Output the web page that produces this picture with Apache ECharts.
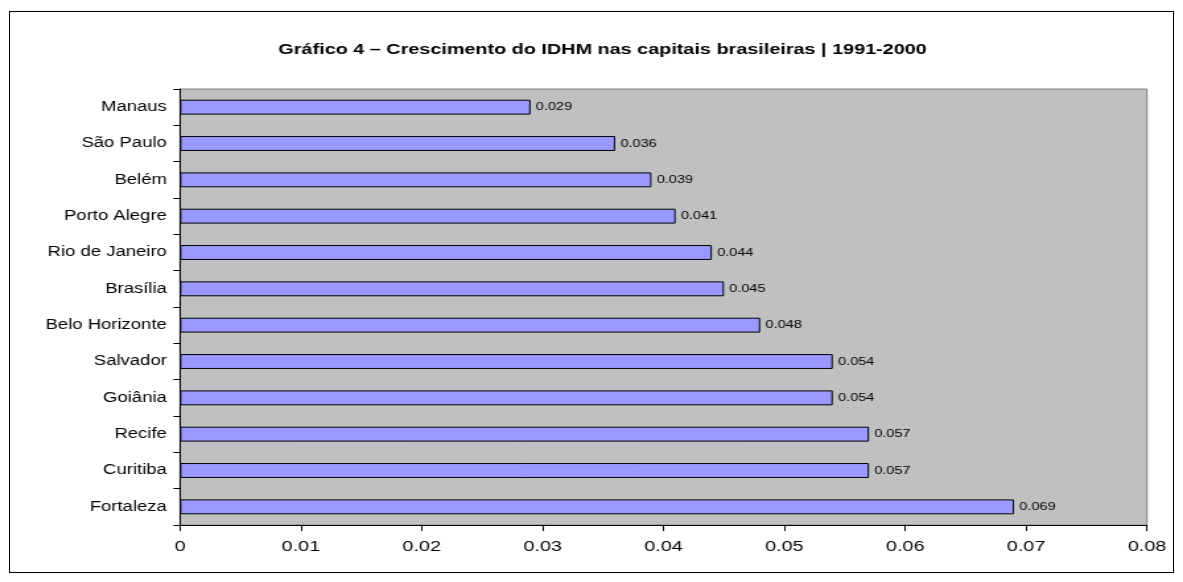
<!DOCTYPE html>
<html>
<head>
<meta charset="utf-8">
<script src="https://cdn.jsdelivr.net/npm/echarts@6/dist/echarts.min.js"></script>
<style>
  html, body { margin: 0; padding: 0; background: #fff; overflow: hidden; }
  #frame { position: absolute; left: 9px; top: 11px; width: 1165px; height: 562px; border: 1px solid #000; box-sizing: border-box; }
  /* chart laid out on a narrower canvas and widened horizontally, giving the broad lettering */
  #chart { position: absolute; left: 0; top: 0; width: 896px; height: 582px; transform: scaleX(1.3203); transform-origin: 0 0; }
</style>
</head>
<body>
<div id="frame"></div>
<div id="chart"></div>
<script>
// Capitals listed top to bottom, with IDHM growth 1991-2000
const capitais = ['Manaus', 'São Paulo', 'Belém', 'Porto Alegre', 'Rio de Janeiro', 'Brasília',
  'Belo Horizonte', 'Salvador', 'Goiânia', 'Recife', 'Curitiba', 'Fortaleza'];
const crescimento = [0.029, 0.036, 0.039, 0.041, 0.044, 0.045, 0.048, 0.054, 0.054, 0.057, 0.057, 0.069];
const tituloTexto = 'Gráfico 4 – Crescimento do IDHM nas capitais brasileiras | 1991-2000';

const SX = 1183 / 896; // horizontal stretch applied to the chart container
const chart = echarts.init(document.getElementById('chart'), null, { renderer: 'canvas' });
const font = 'Liberation Sans, Arial, sans-serif';

chart.setOption({
  animation: false,
  backgroundColor: 'transparent',
  title: {
    text: tituloTexto,
    left: 596 / SX,
    textAlign: 'center',
    top: 37,
    textStyle: { fontFamily: font, fontSize: 15, fontWeight: 'bold', color: '#000' }
  },
  grid: {
    left: 180 / SX, right: 36 / SX, top: 89, bottom: 57,
    show: true, backgroundColor: '#C0C0C0', borderColor: '#808080', borderWidth: 1
  },
  xAxis: {
    type: 'value',
    min: 0, max: 0.08, interval: 0.01,
    axisLine: { show: true, lineStyle: { color: '#000', width: 1 } },
    axisTick: { show: true, length: 6, lineStyle: { color: '#000' } },
    splitLine: { show: false },
    axisLabel: {
      fontFamily: font, fontSize: 15, color: '#000', margin: 14,
      formatter: v => (Math.round(v * 100) / 100).toString()
    }
  },
  yAxis: {
    type: 'category',
    data: capitais,
    inverse: true,
    axisLine: { show: true, lineStyle: { color: '#000', width: 1 } },
    axisTick: { show: true, length: 5, lineStyle: { color: '#000' } },
    axisLabel: { fontFamily: font, fontSize: 14, color: '#000', margin: 10 }
  },
  series: [{
    type: 'bar',
    data: crescimento,
    barWidth: '41%',
    itemStyle: { color: '#9999FF', borderColor: '#000', borderWidth: 1 },
    label: {
      show: true, position: 'right', distance: 4,
      fontFamily: font, fontSize: 11, color: '#000',
      formatter: p => p.value.toFixed(3)
    }
  }]
});
</script>
</body>
</html>
